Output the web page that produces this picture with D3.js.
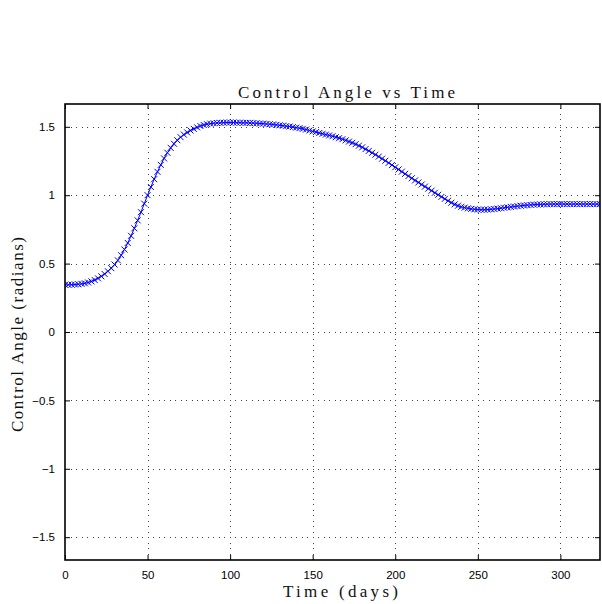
<!DOCTYPE html>
<html>
<head>
<meta charset="utf-8">
<script src="https://cdn.jsdelivr.net/npm/d3@7/dist/d3.min.js"></script>
<style>
  html, body { margin: 0; padding: 0; background: #fff; }
  svg { display: block; }
</style>
</head>
<body>
<script>
// Control angle history, sampled every 2 days from day 0
const startDay = 0;
const stepDays = 2;
const controlAngle = [
  0.345, 0.345, 0.346, 0.347, 0.349, 0.352, 0.356, 0.362, 0.370, 0.380,
  0.392, 0.407, 0.424, 0.444, 0.467, 0.493, 0.524, 0.561, 0.603, 0.651,
  0.703, 0.758, 0.816, 0.876, 0.938, 1.000, 1.060, 1.117, 1.171, 1.222,
  1.269, 1.310, 1.346, 1.376, 1.402, 1.424, 1.443, 1.459, 1.473, 1.485,
  1.496, 1.506, 1.513, 1.519, 1.523, 1.526, 1.528, 1.529, 1.530, 1.531,
  1.531, 1.531, 1.530, 1.530, 1.529, 1.529, 1.528, 1.527, 1.526, 1.524,
  1.523, 1.521, 1.519, 1.517, 1.514, 1.511, 1.508, 1.505, 1.502, 1.498,
  1.494, 1.490, 1.485, 1.480, 1.473, 1.466, 1.461, 1.455, 1.449, 1.443,
  1.437, 1.431, 1.424, 1.417, 1.409, 1.401, 1.392, 1.383, 1.373, 1.362,
  1.350, 1.337, 1.324, 1.310, 1.296, 1.282, 1.267, 1.252, 1.236, 1.220,
  1.204, 1.188, 1.172, 1.156, 1.140, 1.124, 1.108, 1.093, 1.078, 1.063,
  1.048, 1.033, 1.018, 1.003, 0.988, 0.973, 0.959, 0.945, 0.933, 0.923,
  0.915, 0.909, 0.904, 0.900, 0.897, 0.895, 0.894, 0.894, 0.895, 0.897,
  0.899, 0.902, 0.905, 0.908, 0.911, 0.914, 0.917, 0.920, 0.923, 0.925,
  0.927, 0.929, 0.931, 0.932, 0.933, 0.934, 0.934, 0.935, 0.935, 0.935,
  0.935, 0.935, 0.935, 0.935, 0.935, 0.935, 0.935, 0.935, 0.935, 0.935,
  0.935, 0.935, 0.935
];
const days = controlAngle.map((_, i) => startDay + i * stepDays);

const xTicks = [0, 50, 100, 150, 200, 250, 300];
const yTicks = [-1.5, -1, -0.5, 0, 0.5, 1, 1.5];
const xDomain = [0, 324];
const yDomain = [-5 / 3, 5 / 3];

const titleText = "Control Angle vs Time";
const xLabelText = "Time (days)";
const yLabelText = "Control Angle (radians)";

const W = 602, H = 604;
const plot = { left: 65, right: 600, top: 104, bottom: 560 };

const svg = d3.select("body").append("svg")
  .attr("width", W).attr("height", H);

const x = d3.scaleLinear().domain(xDomain).range([plot.left, plot.right]);
const y = d3.scaleLinear().domain(yDomain).range([plot.bottom, plot.top]);

const fmt = v => (v < 0 ? "\u2212" : "") + String(Math.abs(v));

// dotted grid
const grid = svg.append("g")
  .attr("stroke", "#444").attr("stroke-width", 1)
  .attr("stroke-dasharray", "1,4.5").attr("shape-rendering", "crispEdges");
grid.selectAll("line.gx").data(xTicks.filter(d => d > xDomain[0])).join("line")
  .attr("x1", d => Math.round(x(d)) + 0.5).attr("x2", d => Math.round(x(d)) + 0.5)
  .attr("y1", plot.bottom).attr("y2", plot.top);
grid.selectAll("line.gy").data(yTicks).join("line")
  .attr("y1", d => Math.round(y(d)) + 0.5).attr("y2", d => Math.round(y(d)) + 0.5)
  .attr("x1", plot.left).attr("x2", plot.right);

// data line with x markers
svg.append("clipPath").attr("id", "plotClip")
  .append("rect").attr("x", plot.left).attr("y", plot.top)
  .attr("width", plot.right - plot.left).attr("height", plot.bottom - plot.top);

const series = svg.append("g").attr("clip-path", "url(#plotClip)");
const line = d3.line().x((d, i) => x(days[i])).y(d => y(d));
series.append("path")
  .datum(controlAngle)
  .attr("fill", "none").attr("stroke", "#0000ff").attr("stroke-width", 1)
  .attr("d", line);

const m = 3;
series.selectAll("path.mk").data(controlAngle).join("path")
  .attr("class", "mk")
  .attr("fill", "none").attr("stroke", "#0000ff").attr("stroke-width", 1)
  .attr("d", (d, i) => {
    const cx = x(days[i]), cy = y(d);
    return `M${cx - m},${cy - m}L${cx + m},${cy + m}M${cx - m},${cy + m}L${cx + m},${cy - m}`;
  });

// axes with inward ticks on all four sides
const tickLen = 5;
const axisStyle = g => {
  g.select(".domain").remove();
  g.selectAll(".tick line").attr("stroke", "#000").attr("stroke-width", 1);
  g.selectAll(".tick text").attr("fill", "#000")
    .style("font-family", "'Liberation Sans', Arial, sans-serif").style("font-size", "11.5px");
};

svg.append("g").attr("transform", `translate(0,${plot.bottom})`)
  .call(d3.axisBottom(x).tickValues(xTicks).tickFormat(fmt).tickSizeInner(-tickLen).tickSizeOuter(0).tickPadding(11))
  .call(axisStyle);
svg.append("g").attr("transform", `translate(0,${plot.top})`)
  .call(d3.axisTop(x).tickValues(xTicks).tickFormat("").tickSizeInner(-tickLen).tickSizeOuter(0))
  .call(axisStyle);
svg.append("g").attr("transform", `translate(${plot.left},0)`)
  .call(d3.axisLeft(y).tickValues(yTicks).tickFormat(fmt).tickSizeInner(-tickLen).tickSizeOuter(0).tickPadding(10))
  .call(axisStyle);
svg.append("g").attr("transform", `translate(${plot.right},0)`)
  .call(d3.axisRight(y).tickValues(yTicks).tickFormat("").tickSizeInner(-tickLen).tickSizeOuter(0))
  .call(axisStyle);

// axes box
svg.append("rect")
  .attr("x", plot.left).attr("y", plot.top)
  .attr("width", plot.right - plot.left).attr("height", plot.bottom - plot.top)
  .attr("fill", "none").attr("stroke", "#000").attr("stroke-width", 1.6);

// titles
const serif = "'Liberation Serif', 'Times New Roman', serif";
svg.append("text")
  .attr("x", 238).attr("y", 98)
  .attr("textLength", 217).attr("lengthAdjust", "spacing")
  .style("font-family", serif).style("font-size", "17px").attr("fill", "#111")
  .text(titleText);

svg.append("text")
  .attr("x", 283).attr("y", 597)
  .attr("textLength", 115).attr("lengthAdjust", "spacing")
  .style("font-family", serif).style("font-size", "17px").attr("fill", "#111")
  .text(xLabelText);

svg.append("text")
  .attr("transform", "translate(23,432) rotate(-90)")
  .attr("x", 0).attr("y", 0)
  .attr("textLength", 195).attr("lengthAdjust", "spacing")
  .style("font-family", serif).style("font-size", "17px").attr("fill", "#111")
  .text(yLabelText);
</script>
</body>
</html>
